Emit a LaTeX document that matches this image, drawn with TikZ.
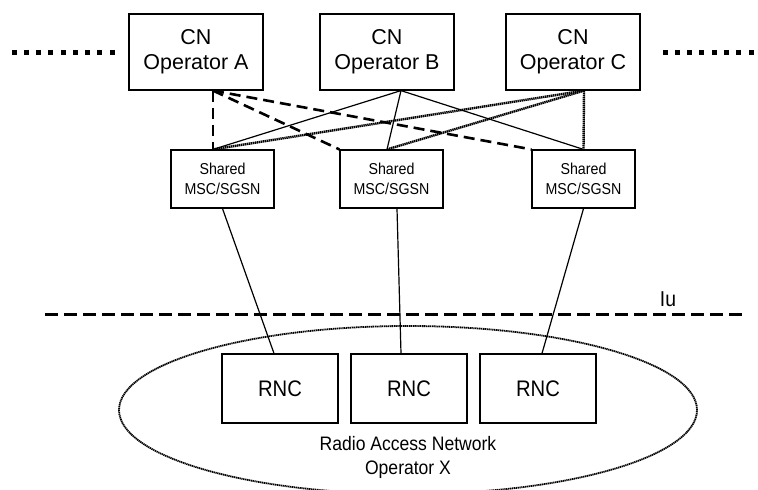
\documentclass[tikz,border=0pt]{standalone}
\usepackage{fontspec}
\setmainfont{Liberation Sans}
\newfontfamily\narrowfont[FakeStretch=0.9]{Liberation Sans}
\usetikzlibrary{shapes.geometric}
\begin{document}
\begin{tikzpicture}[x=1pt,y=-1pt,
  box/.style={draw, line width=1.2pt, inner sep=0pt, align=center},
  cnbox/.style={box, minimum width=134pt, minimum height=76pt, font=\fontsize{21.5}{25}\selectfont},
  shbox/.style={box, minimum width=103pt, minimum height=58pt, font=\narrowfont\fontsize{15.8}{20.5}\selectfont},
  rncbox/.style={box, minimum width=116pt, minimum height=69pt, font=\narrowfont\fontsize{22.5}{26}\selectfont},
  solidline/.style={line width=1.2pt},
  dashline/.style={line width=2.6pt, dash pattern=on 11pt off 6pt},
  dotline/.style={line width=2.4pt, dash pattern=on 1.4pt off 0.6pt},
  iuline/.style={line width=3pt, dash pattern=on 13pt off 6pt},
  ranline/.style={line width=1.8pt, dash pattern=on 1.3pt off 0.6pt},
  dotsq/.style={fill=black}
]
\useasboundingbox (0,0) rectangle (758,490);
\clip (0,0) rectangle (758,490);

% leading / trailing dots
\foreach \i in {0,...,8} { \fill[dotsq] (11.5+12.25*\i,49.5) rectangle ++(5,5); }
\foreach \i in {0,...,7} { \fill[dotsq] (662.5+12.3*\i,49.5) rectangle ++(5,5); }

% CN operators
\node[cnbox] (A) at (196,52) {CN\\Operator A};
\node[cnbox] (B) at (387,52) {CN\\Operator B};
\node[cnbox] (C) at (573,52) {CN\\Operator C};

% shared MSC/SGSN
\node[shbox] (S1) at (222.5,179) {Shared\\MSC/SGSN};
\node[shbox] (S2) at (391.5,179) {Shared\\MSC/SGSN};
\node[shbox] (S3) at (583.5,179) {Shared\\MSC/SGSN};

% RNCs
\node[rncbox] (R1) at (280,388.5) {RNC};
\node[rncbox] (R2) at (409,388.5) {RNC};
\node[rncbox] (R3) at (538,388.5) {RNC};

% connection points
\coordinate (Ab) at ([xshift=17pt]A.south);
\coordinate (Bb) at ([xshift=14pt]B.south);
\coordinate (Cb) at ([xshift=11pt]C.south);
\coordinate (S1t) at ([xshift=-9.5pt]S1.north);
\coordinate (S2t) at ([xshift=-4.5pt]S2.north);
\coordinate (S3t) at (S3.north);
\coordinate (S2b) at ([xshift=5.5pt]S2.south);
\coordinate (R1t) at ([xshift=-6pt]R1.north);
\coordinate (R2t) at ([xshift=-8pt]R2.north);
\coordinate (R3t) at ([xshift=4pt]R3.north);

% operator A (dashed)
\draw[dashline] (Ab) -- (S1t);
\draw[dashline] (Ab) -- (S2.north west);
\draw[dashline] (Ab) -- (S3.north west);
% operator B (solid)
\draw[solidline] (Bb) -- (S1t);
\draw[solidline] (Bb) -- (S2t);
\draw[solidline] (Bb) -- (S3t);
% operator C (dotted)
\draw[dotline] (Cb) -- (S1t);
\draw[dotline] (Cb) -- (S2t);
\draw[dotline] (Cb) -- (S3t);

% Shared to RNC
\draw[solidline] (S1.south) -- (R1t);
\draw[solidline] (S2b) -- (R2t);
\draw[solidline] (S3.south) -- (R3t);

% Iu
\coordinate (IuL) at (45,314);
\coordinate (IuR) at (743,314);
\draw[iuline] (IuL) -- (IuR);
\node[font=\narrowfont\fontsize{21.5}{24}\selectfont] (Iu) at (668,299) {Iu};

% RAN ellipse
\node[draw, ranline, ellipse, minimum width=578pt, minimum height=168pt, inner sep=0pt] (RAN) at (408,410) {};
\node[font=\narrowfont\fontsize{19.5}{24}\selectfont, align=center] (RANt) at (408,457) {Radio Access Network\\Operator X};
\end{tikzpicture}
\end{document}
